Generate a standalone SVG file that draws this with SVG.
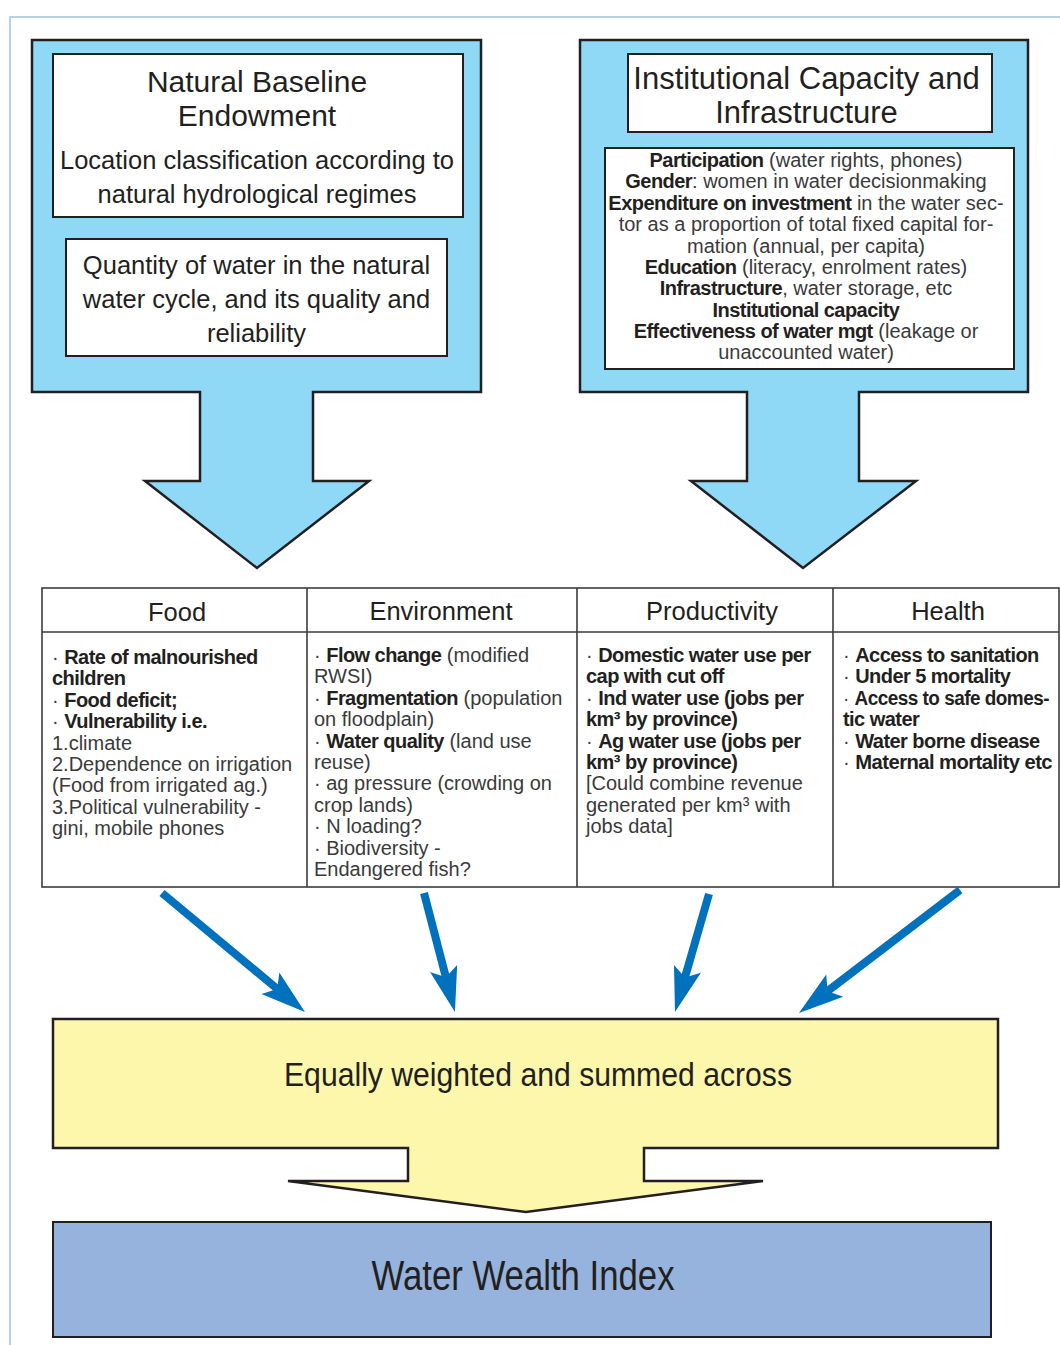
<svg xmlns="http://www.w3.org/2000/svg" width="1060" height="1345" viewBox="0 0 1060 1345">
<style>
text{font-family:"Liberation Sans",Arial,sans-serif;fill:#231f20}
.t30{font-size:30px}
.t31{font-size:31px}
.t25{font-size:25.5px}
.t19{font-size:20px}
.tb{font-size:20px}
.b{font-weight:bold;letter-spacing:-0.55px}
.r{fill:#3a3a3a}
.blue{fill:#8fd8f6;stroke:#231f20;stroke-width:2.5}
.box{fill:#fff;stroke:#231f20;stroke-width:2}
.grid{fill:none;stroke:#3c3c3c;stroke-width:1.6}
.arr{stroke:#0071bc;stroke-width:8;fill:none;marker-end:url(#head)}
</style>
<defs>
<marker id="head" markerUnits="userSpaceOnUse" markerWidth="80" markerHeight="80" refX="0" refY="0" orient="auto" overflow="visible">
<path d="M30,0 L-15,-14 L-6,0 L-15,14 Z" fill="#0071bc"/>
</marker>
</defs>
<rect width="1060" height="1345" fill="#fff"/>
<path d="M10,1345 V17 H1060" fill="none" stroke="#9dc3e6" stroke-width="1.5"/>

<g id="natural-baseline">
<path class="blue" d="M32,40 H481 V392 H313 V481 H369 L257,568 L145,481 H200 V392 H32 Z"/>
<rect class="box" x="53" y="54" width="410" height="163"/>
<text class="t30" text-anchor="middle" x="257" y="92">Natural Baseline</text>
<text class="t30" text-anchor="middle" x="257" y="126">Endowment</text>
<text class="t25" text-anchor="middle" x="257" y="169">Location classification according to</text>
<text class="t25" text-anchor="middle" x="257" y="203">natural hydrological regimes</text>
<rect class="box" x="66" y="239" width="381" height="117"/>
<text class="t25" text-anchor="middle" x="256.5" y="274">Quantity of water in the natural</text>
<text class="t25" text-anchor="middle" x="256.5" y="308">water cycle, and its quality and</text>
<text class="t25" text-anchor="middle" x="256.5" y="342">reliability</text>
</g>

<g id="institutional-capacity">
<path class="blue" d="M580,40 H1028 V392 H859 V481 H916 L803,568 L691,481 H747 V392 H580 Z"/>
<rect class="box" x="628" y="54" width="364" height="78"/>
<text class="t31" text-anchor="middle" x="806.5" y="89">Institutional Capacity and</text>
<text class="t31" text-anchor="middle" x="806.5" y="123">Infrastructure</text>
<rect class="box" x="605" y="148" width="409" height="221"/>
<g class="t19" text-anchor="middle">
<text x="806" y="167"><tspan class="b">Participation</tspan><tspan class="r"> (water rights, phones)</tspan></text>
<text x="806" y="188"><tspan class="b">Gender</tspan><tspan class="r">: women in water decisionmaking</tspan></text>
<text x="806" y="210"><tspan class="b">Expenditure on investment</tspan><tspan class="r"> in the water sec-</tspan></text>
<text x="806" y="231" class="r">tor as a proportion of total fixed capital for-</text>
<text x="806" y="253" class="r">mation (annual, per capita)</text>
<text x="806" y="274"><tspan class="b">Education</tspan><tspan class="r"> (literacy, enrolment rates)</tspan></text>
<text x="806" y="295"><tspan class="b">Infrastructure</tspan><tspan class="r">, water storage, etc</tspan></text>
<text x="806" y="317" class="b">Institutional capacity</text>
<text x="806" y="338"><tspan class="b">Effectiveness of water mgt</tspan><tspan class="r"> (leakage or</tspan></text>
<text x="806" y="359" class="r">unaccounted water)</text>
</g>
</g>

<g id="table">
<rect class="grid" x="42" y="588" width="1017" height="299"/>
<path class="grid" d="M42,632 H1059 M307,588 V887 M577,588 V887 M833,588 V887"/>
</g>

<g id="food">
<text class="t25" text-anchor="middle" x="177" y="621">Food</text>
<g class="tb">
<text x="52" y="664"><tspan class="r">· </tspan><tspan class="b">Rate of malnourished</tspan></text>
<text x="52" y="685.4" class="b">children</text>
<text x="52" y="706.8"><tspan class="r">· </tspan><tspan class="b">Food deficit;</tspan></text>
<text x="52" y="728.2"><tspan class="r">· </tspan><tspan class="b">Vulnerability i.e.</tspan></text>
<text x="52" y="749.6" class="r">1.climate</text>
<text x="52" y="771" class="r">2.Dependence on irrigation</text>
<text x="52" y="792.4" class="r">(Food from irrigated ag.)</text>
<text x="52" y="813.8" class="r">3.Political vulnerability -</text>
<text x="52" y="835.2" class="r">gini, mobile phones</text>
</g>
</g>

<g id="environment">
<text class="t25" text-anchor="middle" x="441" y="620">Environment</text>
<g class="tb">
<text x="314" y="662"><tspan class="r">· </tspan><tspan class="b">Flow change</tspan><tspan class="r"> (modified</tspan></text>
<text x="314" y="683.4" class="r">RWSI)</text>
<text x="314" y="704.8"><tspan class="r">· </tspan><tspan class="b">Fragmentation</tspan><tspan class="r"> (population</tspan></text>
<text x="314" y="726.2" class="r">on floodplain)</text>
<text x="314" y="747.6"><tspan class="r">· </tspan><tspan class="b">Water quality</tspan><tspan class="r"> (land use</tspan></text>
<text x="314" y="769" class="r">reuse)</text>
<text x="314" y="790.4" class="r">· ag pressure (crowding on</text>
<text x="314" y="811.8" class="r">crop lands)</text>
<text x="314" y="833.2" class="r">· N loading?</text>
<text x="314" y="854.6" class="r">· Biodiversity -</text>
<text x="314" y="876" class="r">Endangered fish?</text>
</g>
</g>

<g id="productivity">
<text class="t25" text-anchor="middle" x="712" y="620">Productivity</text>
<g class="tb">
<text x="586" y="662"><tspan class="r">· </tspan><tspan class="b">Domestic water use per</tspan></text>
<text x="586" y="683.4" class="b">cap with cut off</text>
<text x="586" y="704.8"><tspan class="r">· </tspan><tspan class="b">Ind water use (jobs per</tspan></text>
<text x="586" y="726.2" class="b">km³ by province)</text>
<text x="586" y="747.6"><tspan class="r">· </tspan><tspan class="b">Ag water use (jobs per</tspan></text>
<text x="586" y="769" class="b">km³ by province)</text>
<text x="586" y="790.4" class="r">[Could combine revenue</text>
<text x="586" y="811.8" class="r">generated per km³ with</text>
<text x="586" y="833.2" class="r">jobs data]</text>
</g>
</g>

<g id="health">
<text class="t25" text-anchor="middle" x="948" y="620">Health</text>
<g class="tb">
<text x="843" y="662"><tspan class="r">· </tspan><tspan class="b">Access to sanitation</tspan></text>
<text x="843" y="683.4"><tspan class="r">· </tspan><tspan class="b">Under 5 mortality</tspan></text>
<text x="843" y="704.8" textLength="206" lengthAdjust="spacingAndGlyphs"><tspan class="r">· </tspan><tspan class="b">Access to safe domes-</tspan></text>
<text x="843" y="726.2" class="b">tic water</text>
<text x="843" y="747.6"><tspan class="r">· </tspan><tspan class="b">Water borne disease</tspan></text>
<text x="843" y="769" textLength="209" lengthAdjust="spacingAndGlyphs"><tspan class="r">· </tspan><tspan class="b">Maternal mortality etc</tspan></text>
</g>
</g>

<g id="connectors">
<line class="arr" x1="162" y1="893" x2="281.9" y2="992.8"/>
<line class="arr" x1="424" y1="893" x2="447.4" y2="983"/>
<line class="arr" x1="709" y1="894" x2="683.3" y2="983.2"/>
<line class="arr" x1="960" y1="890" x2="822.8" y2="994.8"/>
</g>

<g id="equally-weighted">
<path d="M53,1019 H998 V1148 H644 V1181 H763 L526,1212 L288,1181 H408 V1148 H53 Z" fill="#fdf7ab" stroke="#231f20" stroke-width="2.5"/>
<text x="538" y="1086" text-anchor="middle" font-size="34" textLength="508" lengthAdjust="spacingAndGlyphs">Equally weighted and summed across</text>
</g>

<g id="water-wealth-index">
<rect x="53" y="1222" width="938" height="115" fill="#95b3dc" stroke="#231f20" stroke-width="2"/>
<text x="523" y="1290" text-anchor="middle" font-size="42" textLength="303" lengthAdjust="spacingAndGlyphs">Water Wealth Index</text>
</g>
</svg>
